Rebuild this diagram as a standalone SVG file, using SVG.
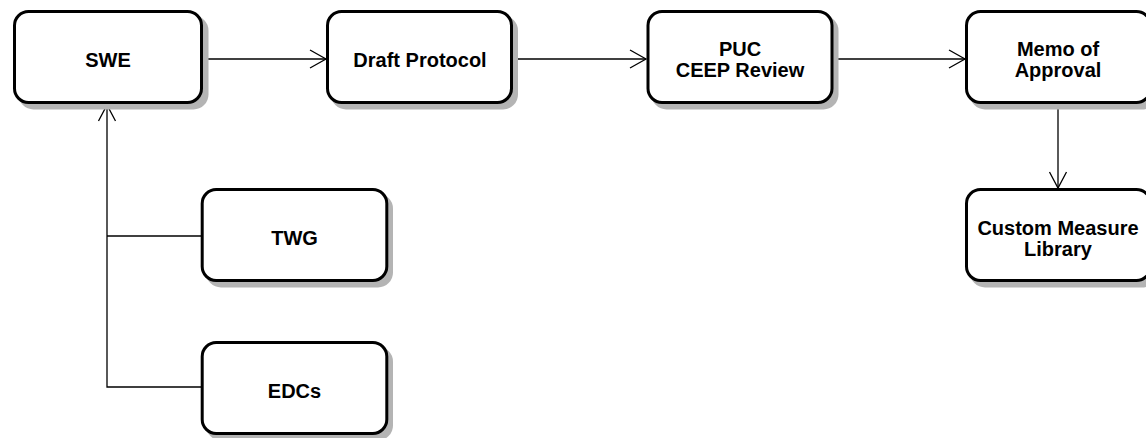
<svg xmlns="http://www.w3.org/2000/svg" width="1146" height="438" viewBox="0 0 1146 438">
  <defs>
    <style>
      .shadow { fill: #b4b4b4; }
      .box { fill: #ffffff; stroke: #000000; stroke-width: 3; }
      .label { font-family: "Liberation Sans", Arial, sans-serif; font-weight: bold; font-size: 20px; fill: #000000; text-anchor: middle; }
      .wire { fill: none; stroke: #000000; stroke-width: 1.3; }
      .head { fill: none; stroke: #000000; stroke-width: 1.3; }
    </style>
  </defs>
  <rect width="1146" height="438" fill="#ffffff"/>

  <g id="connectors">
    <!-- SWE -> Draft Protocol -->
    <line class="wire" x1="203" y1="59" x2="326" y2="59"/>
    <polyline class="head" points="310,50 326,59 310,68"/>
    <!-- Draft Protocol -> PUC CEEP Review -->
    <line class="wire" x1="513" y1="59" x2="646" y2="59"/>
    <polyline class="head" points="630,50 646,59 630,68"/>
    <!-- PUC CEEP Review -> Memo of Approval -->
    <line class="wire" x1="833" y1="59" x2="965" y2="59"/>
    <polyline class="head" points="949,50 965,59 949,68"/>
    <!-- Memo of Approval -> Custom Measure Library -->
    <line class="wire" x1="1058" y1="104" x2="1058" y2="188"/>
    <polyline class="head" points="1049.5,172 1058,188 1066.5,172"/>
    <!-- TWG / EDCs -> SWE -->
    <polyline class="wire" points="201,236 107,236"/>
    <polyline class="wire" points="201,387 107,387 107,105"/>
    <polyline class="head" points="98.5,121 107,105 115.5,121"/>
  </g>

  <g id="swe">
    <rect class="shadow" x="18.5" y="15.5" width="190" height="94" rx="15"/>
    <rect class="box" x="14.5" y="11.5" width="187" height="91" rx="14"/>
    <text class="label" x="108" y="67">SWE</text>
  </g>

  <g id="draft-protocol">
    <rect class="shadow" x="331" y="15.5" width="187" height="94" rx="15"/>
    <rect class="box" x="327.5" y="11.5" width="184" height="91" rx="14"/>
    <text class="label" x="420" y="67">Draft Protocol</text>
  </g>

  <g id="puc-ceep-review">
    <rect class="shadow" x="651.5" y="15.5" width="187" height="94" rx="15"/>
    <rect class="box" x="648" y="11.5" width="184" height="91" rx="14"/>
    <text class="label" x="740" y="56">PUC</text>
    <text class="label" x="740" y="77">CEEP Review</text>
  </g>

  <g id="memo-of-approval">
    <rect class="shadow" x="970" y="15.5" width="187" height="94" rx="15"/>
    <rect class="box" x="966.5" y="11.5" width="184" height="91" rx="14"/>
    <text class="label" x="1058" y="56">Memo of</text>
    <text class="label" x="1058" y="77">Approval</text>
  </g>

  <g id="custom-measure-library">
    <rect class="shadow" x="970" y="193.5" width="187" height="94" rx="15"/>
    <rect class="box" x="966.5" y="189.5" width="184" height="91" rx="14"/>
    <text class="label" x="1058" y="235">Custom Measure</text>
    <text class="label" x="1058" y="256">Library</text>
  </g>

  <g id="twg">
    <rect class="shadow" x="206" y="193.5" width="187" height="94" rx="15"/>
    <rect class="box" x="202.2" y="189.5" width="184.6" height="91" rx="14"/>
    <text class="label" x="294.5" y="245">TWG</text>
  </g>

  <g id="edcs">
    <rect class="shadow" x="206" y="346.5" width="187" height="94" rx="15"/>
    <rect class="box" x="202.2" y="342.5" width="184.6" height="91" rx="14"/>
    <text class="label" x="294.5" y="398">EDCs</text>
  </g>
</svg>
